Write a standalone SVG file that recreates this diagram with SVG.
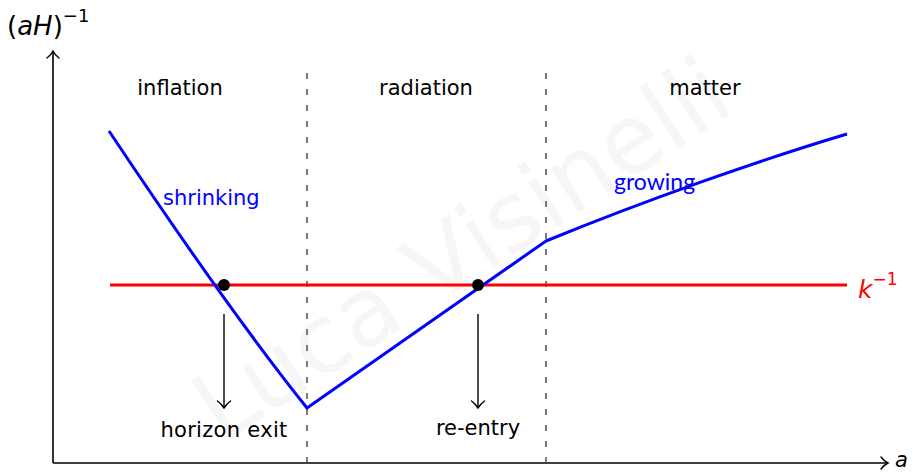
<svg xmlns="http://www.w3.org/2000/svg" width="913" height="472" viewBox="0 0 913 472">
<style>
  .lbl { font-family: "DejaVu Sans", sans-serif; font-size: 21px; fill: #000; }
  .blue { fill: #0000ff; }
  .ax { stroke: #000; stroke-width: 1.6; fill: none; }
  .dash { stroke: #444; stroke-width: 1.4; stroke-dasharray: 6 10; fill: none; }
  .arr { stroke: #000; stroke-width: 1.4; fill: none; }
  .head { stroke: #000; stroke-width: 1.4; fill: none; stroke-linecap: round; }
  .math { font-family: "DejaVu Sans", sans-serif; }
</style>
<rect width="913" height="472" fill="#fff"/>
<g id="watermark">
  <text transform="translate(462,250) rotate(-33)" x="0" y="32" text-anchor="middle" font-family="DejaVu Sans, sans-serif" font-size="95" fill="#f6f6f6">Luca Visinelli</text>
</g>
<g id="axes">
  <path class="ax" d="M53,463 V52"/>
  <path class="head" d="M47,58 Q51,55 53,51 Q55,55 59,58"/>
  <path class="ax" d="M53,463 H887"/>
  <path class="head" d="M881,457 Q884,461 888,463 Q884,465 881,469"/>
  <text class="math" x="7" y="35" font-size="26">(<tspan font-style="italic">aH</tspan>)<tspan font-size="18" dy="-13">−1</tspan></text>
  <text class="math" x="895" y="467" font-size="21" font-style="italic">a</text>
</g>
<g id="epochs">
  <path class="dash" d="M307,73 V463"/>
  <path class="dash" d="M546,73 V463"/>
  <text class="lbl" x="180" y="95" text-anchor="middle">inflation</text>
  <text class="lbl" x="426" y="95" text-anchor="middle">radiation</text>
  <text class="lbl" x="705" y="95" text-anchor="middle">matter</text>
</g>
<g id="k-line">
  <path d="M110,285 H847" stroke="#ff0000" stroke-width="3" fill="none"/>
  <text class="math" x="858" y="298" font-size="25" fill="#ff0000"><tspan font-style="italic">k</tspan><tspan font-size="17" dy="-13">−1</tspan></text>
</g>
<g id="hubble-curve">
  <path d="M109,131 Q227,308 307,408 L546,241 C646,200 760,160 847,134" stroke="#0000ff" stroke-width="3" fill="none" stroke-linejoin="miter"/>
  <text class="lbl blue" x="163" y="205">shrinking</text>
  <text x="614" y="190" font-family="Lato, sans-serif" font-size="23" fill="#0000ff">growing</text>
</g>
<g id="horizon-exit">
  <circle cx="224" cy="285" r="6" fill="#000"/>
  <path class="arr" d="M224,314 V407"/>
  <path class="head" d="M217.5,401 Q221,403.5 224,408 Q227,403.5 230.5,401"/>
  <text class="lbl" x="224" y="437" text-anchor="middle" letter-spacing="0.3">horizon exit</text>
</g>
<g id="re-entry">
  <circle cx="478" cy="285" r="6" fill="#000"/>
  <path class="arr" d="M478,314 V407"/>
  <path class="head" d="M471.5,401 Q475,403.5 478,408 Q481,403.5 484.5,401"/>
  <text class="lbl" x="478" y="435" text-anchor="middle">re-entry</text>
</g>
</svg>
